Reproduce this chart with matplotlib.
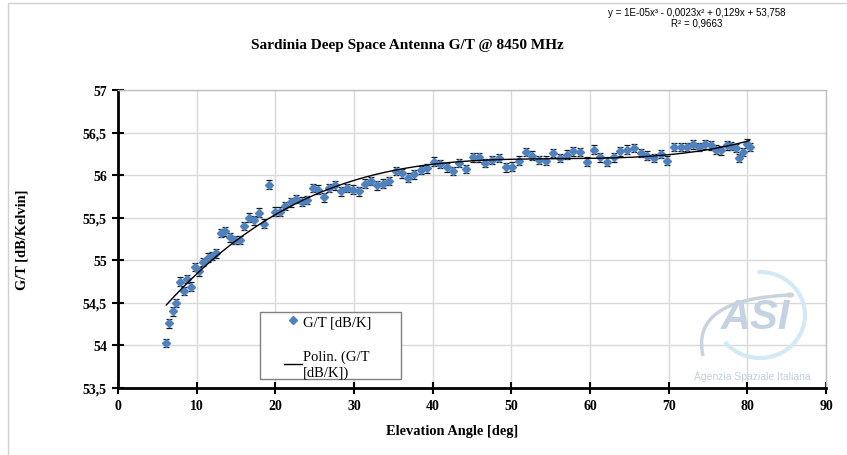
import numpy as np
import matplotlib
matplotlib.use("Agg")
import matplotlib.pyplot as plt
from matplotlib.patches import Arc, Rectangle, PathPatch
from matplotlib.path import Path

# elevation [deg] and measured G/T [dB/K]
elevation = [6.14, 6.48, 6.95, 7.41, 7.88, 8.35, 8.81, 9.32, 9.83, 10.28,
             10.84, 11.47, 11.98, 12.49, 13.09, 13.60, 14.27, 14.87, 15.50, 16.00,
             16.64, 17.28, 17.95, 18.55, 19.23, 19.90, 20.54, 21.26, 21.94, 22.62,
             23.34, 23.98, 24.73, 25.45, 26.16, 26.85, 27.56, 28.33, 29.06, 29.86,
             30.62, 31.38, 32.15, 32.95, 33.71, 34.47, 35.31, 36.09, 36.89, 37.65,
             38.50, 39.30, 40.15, 40.95, 41.77, 42.57, 43.37, 44.26, 45.07, 45.83,
             46.70, 47.58, 48.43, 49.28, 50.13, 50.97, 51.84, 52.69, 53.55, 54.40,
             55.30, 56.15, 57.02, 57.90, 58.72, 59.57, 60.48, 61.33, 62.17, 63.05,
             63.85, 64.76, 65.60, 66.45, 67.30, 68.14, 68.99, 69.80, 70.69, 71.54,
             72.39, 73.15, 73.90, 74.66, 75.39, 76.06, 76.70, 77.37, 77.96, 78.51,
             78.95, 79.45, 79.90, 80.30]
gt = [54.03, 54.26, 54.40, 54.50, 54.75, 54.64, 54.78, 54.69, 54.92, 54.87,
      54.98, 55.03, 55.05, 55.08, 55.32, 55.34, 55.27, 55.24, 55.24, 55.40,
      55.50, 55.47, 55.56, 55.43, 55.89, 55.57, 55.57, 55.64, 55.68, 55.72,
      55.69, 55.71, 55.85, 55.83, 55.74, 55.85, 55.88, 55.81, 55.85, 55.83,
      55.81, 55.90, 55.93, 55.88, 55.90, 55.93, 56.05, 56.02, 55.97, 56.01,
      56.06, 56.08, 56.16, 56.13, 56.09, 56.05, 56.14, 56.07, 56.21, 56.21,
      56.14, 56.18, 56.20, 56.09, 56.10, 56.17, 56.27, 56.23, 56.18, 56.17,
      56.26, 56.20, 56.24, 56.28, 56.27, 56.16, 56.30, 56.21, 56.16, 56.21,
      56.28, 56.30, 56.32, 56.26, 56.23, 56.20, 56.25, 56.17, 56.33, 56.33,
      56.33, 56.36, 56.33, 56.36, 56.35, 56.30, 56.29, 56.35, 56.34, 56.32,
      56.20, 56.27, 56.37, 56.33]
gt_err = 0.05

x_ticks = [0, 10, 20, 30, 40, 50, 60, 70, 80, 90]
y_ticks = [53.5, 54, 54.5, 55, 55.5, 56, 56.5, 57]
y_ticklabels = ["53,5", "54", "54,5", "55", "55,5", "56", "56,5", "57"]

W, H = 847, 456
def fx(px):
    return px / W
def fy(py):
    return 1 - py / H

fig = plt.figure(figsize=(8.47, 4.56), dpi=100)
ax_l, ax_b, ax_r, ax_t = 118, 389, 826, 91
ax = fig.add_axes([fx(ax_l), fy(ax_b), fx(ax_r) - fx(ax_l), fy(ax_t) - fy(ax_b)])
def ax_x(px):
    return (px - ax_l) / (ax_r - ax_l)
def ax_y(py):
    return (ax_b - py) / (ax_b - ax_t)

# chart area border (only top and left edges fall inside the image)
fig.patches.append(Rectangle((fx(8), -0.2), 1.2, fy(4) + 0.2,
                             transform=fig.transFigure, fill=False,
                             edgecolor="#d0d0d0", lw=1, zorder=0))

serif = "Liberation Serif"

# measurements with error bars
ax.errorbar(elevation, gt, yerr=gt_err, fmt="none", ecolor="#1a1a1a",
            elinewidth=0.9, capsize=2.4, capthick=0.9, zorder=3)
ax.plot(elevation, gt, linestyle="none", marker="D", ms=4.2,
        color="#4f81bd", label="G/T [dB/K]", zorder=4)

# 3rd order polynomial trend line
coef = np.polyfit(elevation, gt, 3)
xs = np.linspace(min(elevation), max(elevation), 300)
ax.plot(xs, np.polyval(coef, xs), color="black", lw=1,
        label="Polin. (G/T\n[dB/K])", zorder=5)

ax.set_xlim(0, 90)
ax.set_ylim(53.5, 57)
ax.set_xticks(x_ticks)
ax.set_yticks(y_ticks)
ax.set_xticklabels([str(t) for t in x_ticks], fontfamily=serif,
                   fontweight="bold", fontsize=10)
ax.set_yticklabels(y_ticklabels, fontfamily=serif, fontweight="bold",
                   fontsize=10)
ax.grid(True, color="#d9d9d9", lw=1)
ax.set_axisbelow(True)
ax.tick_params(direction="inout", length=8, width=1.5, color="black", pad=4)

for s in ["left", "bottom"]:
    ax.spines[s].set_linewidth(2)
    ax.spines[s].set_color("black")
for s in ["top", "right"]:
    ax.spines[s].set_linewidth(1)
    ax.spines[s].set_color("#bfbfbf")

# legend box drawn separately so the entries can sit inset from its left edge
ax.add_patch(Rectangle((ax_x(260), ax_y(380)), ax_x(401) - ax_x(260),
                       ax_y(313) - ax_y(380), transform=ax.transAxes,
                       facecolor="white", edgecolor="#808080", lw=1, zorder=6))
leg = ax.legend(loc="upper left", bbox_to_anchor=(ax_x(280), ax_y(312)),
                frameon=False, prop={"family": serif, "size": 10.5},
                handlelength=1.2, handletextpad=0.1, labelspacing=1.45,
                borderpad=0.3, borderaxespad=0, markerscale=0.9)
leg.set_zorder(7)

fig.text(fx(407), fy(45), "Sardinia Deep Space Antenna G/T @ 8450 MHz",
         ha="center", va="center", fontfamily=serif, fontweight="bold",
         fontsize=11)
fig.text(fx(452), fy(432), "Elevation Angle [deg]", ha="center", va="center",
         fontfamily=serif, fontweight="bold", fontsize=10.4)
fig.text(fx(22), fy(240), "G/T [dB/Kelvin]", ha="center", va="center",
         rotation=90, fontfamily=serif, fontweight="bold", fontsize=10.4)

fig.text(fx(697), fy(13), "y = 1E-05x³ - 0,0023x² + 0,129x + 53,758",
         ha="center", va="center", fontfamily="Liberation Sans", fontsize=7)
fig.text(fx(697), fy(24), "R² = 0,9663", ha="center", va="center",
         fontfamily="Liberation Sans", fontsize=7)

# ASI watermark
fig.patches.append(Arc((fx(760), fy(316)), fx(90), 86 / H, theta1=-125,
                       theta2=92, transform=fig.transFigure,
                       color="#d3e9f5", lw=3, zorder=1))
swoosh = Path([(fx(703), fy(357)), (fx(690), fy(300)), (fx(790), fy(296))],
              [Path.MOVETO, Path.CURVE3, Path.CURVE3])
fig.patches.append(PathPatch(swoosh, transform=fig.transFigure, fill=False,
                             edgecolor="#c9d3de", lw=2.5, zorder=1))
fig.patches.append(plt.Circle((fx(790), fy(296)), 3.5 / W,
                              transform=fig.transFigure, color="#c9d3de",
                              zorder=1))
fig.text(fx(756), fy(318), "ASI", ha="center", va="center",
         fontfamily="Liberation Sans", fontweight="bold", fontstyle="italic",
         fontsize=30, color="#c5d2e1", zorder=1)
fig.text(fx(752), fy(377), "Agenzia Spaziale Italiana", ha="center",
         va="center", fontfamily="Liberation Sans", fontsize=7.5,
         color="#c3cfdc", zorder=1)

fig.savefig("out.png", dpi=100)
